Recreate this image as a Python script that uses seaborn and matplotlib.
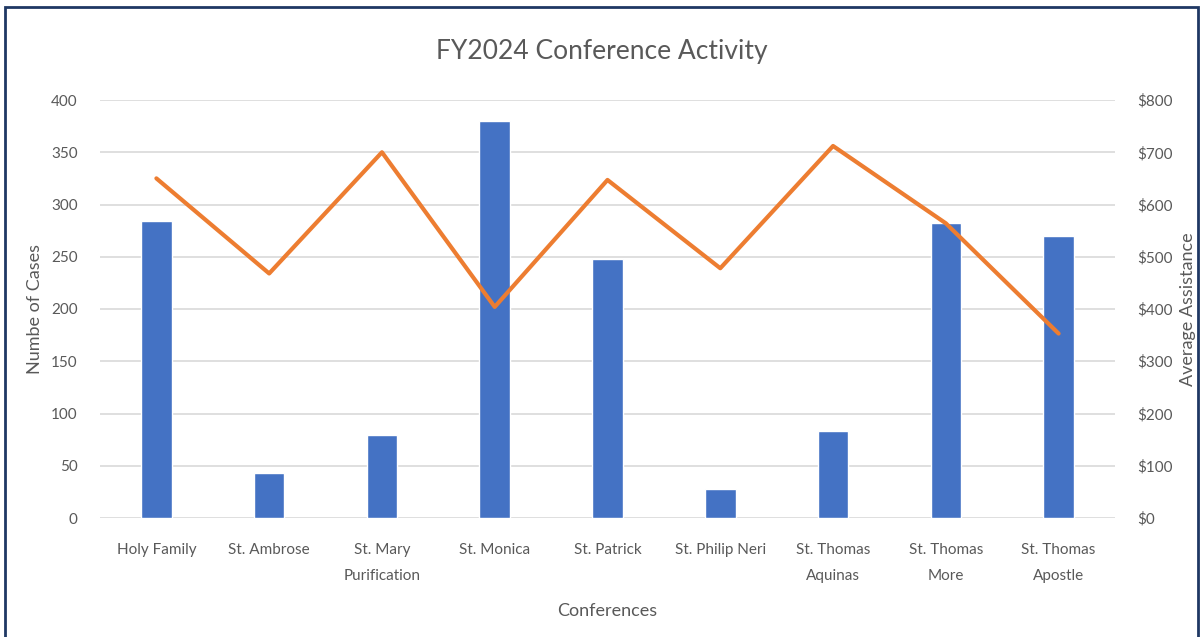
import pandas as pd
import matplotlib.pyplot as plt
import seaborn as sns
from matplotlib.patches import Rectangle
from matplotlib.ticker import FuncFormatter

conferences = ['Holy Family', 'St. Ambrose', 'St. Mary\nPurification', 'St. Monica', 'St. Patrick',
               'St. Philip Neri', 'St. Thomas\nAquinas', 'St. Thomas\nMore', 'St. Thomas\nApostle']
cases = [284, 43, 79, 380, 248, 28, 83, 282, 270]
avg_assist = [650, 468, 700, 404, 647, 478, 712, 564, 353]

df = pd.DataFrame({'Conference': conferences, 'Cases': cases, 'Assistance': avg_assist})

sns.set_style('white')
plt.rcParams['font.family'] = ['Lato', 'DejaVu Sans']
grey = '#595959'

fig = plt.figure(figsize=(12.04, 6.37), dpi=100)
ax = fig.add_axes([100/1204, 1-518/637, 1015/1204, 418/637])

sns.barplot(data=df, x='Conference', y='Cases', color='#4472C4', saturation=1, width=0.27, ax=ax, zorder=2)
ax.set_ylim(0, 400)
ax.set_xlim(-0.5, 8.5)
ax.set_yticks(range(0, 401, 50))
ax.grid(axis='y', color='#d9d9d9', linewidth=1.2, zorder=0)
ax.set_axisbelow(True)
for spine in ax.spines.values(): spine.set_visible(False)
ax.tick_params(axis='both', length=0, labelsize=11, labelcolor=grey)
ax.tick_params(axis='x', pad=18)
ax.tick_params(axis='y', pad=16)
ax.set_ylabel('Numbe of Cases', fontsize=13, color=grey, labelpad=6)
ax.set_xlabel('Conferences', fontsize=13, color=grey, labelpad=14)
for lbl in ax.get_xticklabels():
    lbl.set_linespacing(2.1)

ax2 = ax.twinx()
sns.lineplot(x=range(len(conferences)), y=avg_assist, color='#ED7D31', linewidth=3, ax=ax2)
ax2.set_ylim(0, 800)
ax2.set_yticks(range(0, 801, 100))
ax2.yaxis.set_major_formatter(FuncFormatter(lambda v, p: f'${int(v)}'))
for spine in ax2.spines.values(): spine.set_visible(False)
ax2.tick_params(axis='y', length=0, labelsize=11, labelcolor=grey, pad=16)
ax2.set_ylabel('Average Assistance', fontsize=13, color=grey, labelpad=5)
ax2.grid(False)

fig.text(0.5, 1-51/637, 'FY2024 Conference Activity', ha='center', va='center', fontsize=19, color=grey)
fig.patches.append(Rectangle((5/1204, -0.01), 1193/1204, 1-7/637+0.01, transform=fig.transFigure,
                             fill=False, edgecolor='#1f3864', linewidth=2))

fig.savefig('out.png', dpi=100)
